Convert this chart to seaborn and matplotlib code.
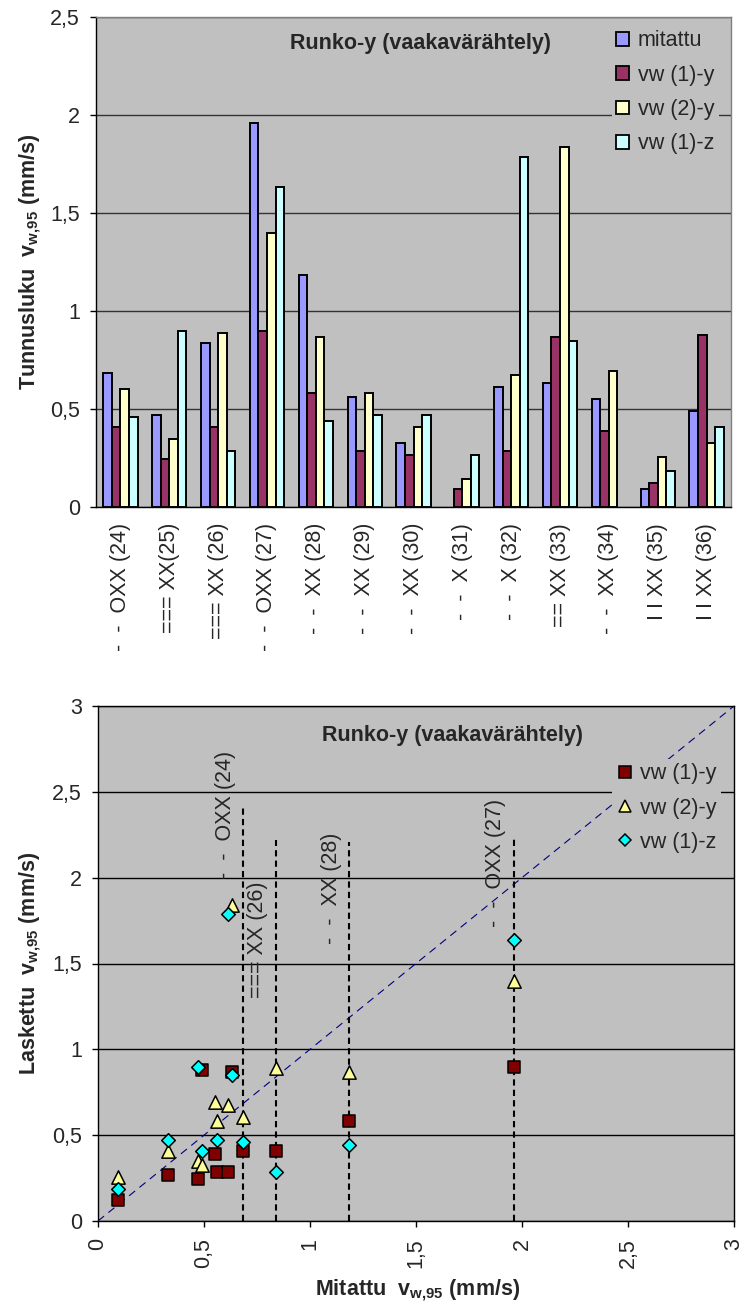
import numpy as np
import pandas as pd
import matplotlib
matplotlib.use("Agg")
import matplotlib.pyplot as plt
import seaborn as sns
from matplotlib.patches import Patch
from matplotlib.lines import Line2D
from matplotlib.ticker import FixedLocator, FuncFormatter

# ---------------- data ----------------
categories = ["-  -  OXX (24)", "=== XX(25)", "=== XX (26)", "-  -  OXX (27)",
              "-  -  XX (28)", "-  -  XX (29)", "-  -  XX (30)", "-  -  X (31)",
              "-  -  X (32)", "== XX (33)", "-  -  XX (34)", "I I XX (35)", "I I XX (36)"]
series_names = ["mitattu", "vw (1)-y", "vw (2)-y", "vw (1)-z"]
mitattu = [0.685, 0.471, 0.838, 1.961, 1.185, 0.563, 0.328, np.nan, 0.614, 0.634, 0.553, 0.093, 0.491]
vw1y = [0.41, 0.246, 0.41, 0.90, 0.583, 0.287, 0.267, 0.093, 0.287, 0.869, 0.389, 0.124, 0.879]
vw2y = [0.604, 0.348, 0.889, 1.40, 0.869, 0.583, 0.41, 0.144, 0.675, 1.838, 0.695, 0.257, 0.328]
vw1z = [0.46, 0.90, 0.287, 1.634, 0.44, 0.471, 0.471, 0.267, 1.787, 0.848, np.nan, 0.185, 0.41]

top_ticks = [0, 0.5, 1, 1.5, 2, 2.5]
bottom_ticks = [0, 0.5, 1, 1.5, 2, 2.5, 3]
ref_line = [0, 3]

# annotated measurements in the scatter chart
annot_idx = [0, 2, 4, 3]
annot_labels = ["-  -  OXX (24)", "=== XX (26)", "-  -  XX (28)", "-  -  OXX (27)"]
annot_line_tops = [2.41, 2.22, 2.21, 2.23]
annot_text_tops = [2.74, 1.98, 2.26, 2.46]

title = "Runko-y (vaakavärähtely)"

# ---------------- style ----------------
sns.set_style("white")
plt.rcParams["font.family"] = ["Liberation Sans", "DejaVu Sans"]
plt.rcParams["mathtext.fontset"] = "custom"
plt.rcParams["mathtext.rm"] = "Liberation Sans"
plt.rcParams["mathtext.bf"] = "Liberation Sans:bold"
plt.rcParams["mathtext.it"] = "Liberation Sans:italic"

bar_colors = {"mitattu": "#9999FF", "vw (1)-y": "#993366",
              "vw (2)-y": "#FFFFCC", "vw (1)-z": "#CCFFFF"}
plot_bg = "#C0C0C0"
FS = 15.5

W, H = 743, 1309
fig = plt.figure(figsize=(W / 100, H / 100), dpi=100)


def rect(l, t, r, b):
    return [l / W, 1 - b / H, (r - l) / W, (b - t) / H]


comma = FuncFormatter(lambda v, p: f"{v:g}".replace(".", ","))
sub_lbl = r"v$_{\mathbf{w{,}95}}$ (mm/s)"

# ---------------- top: bar chart ----------------
ax1 = fig.add_axes(rect(96, 17, 731, 507))
df = pd.DataFrame({
    "kohde": categories * 4,
    "sarja": np.repeat(series_names, len(categories)),
    "arvo": mitattu + vw1y + vw2y + vw1z,
})
sns.barplot(data=df, x="kohde", y="arvo", hue="sarja", order=categories,
            hue_order=series_names, palette=bar_colors, width=0.7,
            edgecolor="black", linewidth=1.4, saturation=1, errorbar=None,
            ax=ax1, zorder=3)
if ax1.get_legend() is not None:
    ax1.get_legend().remove()
ax1.set_facecolor(plot_bg)
ax1.set_xlim(-0.5, len(categories) - 0.5)
ax1.set_ylim(0, 2.5)
ax1.set_yticks(top_ticks)
ax1.yaxis.set_major_formatter(comma)
ax1.yaxis.grid(True, color="#333333", lw=1.0)
ax1.set_axisbelow(True)
ax1.set_xticks(range(len(categories)))
ax1.set_xticklabels(categories, rotation=90, fontsize=FS)
ax1.xaxis.set_minor_locator(FixedLocator(np.arange(-0.5, len(categories), 1.0)))
ax1.tick_params(axis="x", which="major", length=0, pad=11.5)
ax1.tick_params(axis="x", which="minor", length=4.5, width=1, color="black", direction="out")
ax1.tick_params(axis="y", length=4, width=1, color="black", direction="out", pad=7.5, labelsize=FS)
ax1.tick_params(left=True, bottom=True)
for s in ["top", "right"]:
    ax1.spines[s].set_color("#808080")
for s in ["left", "bottom"]:
    ax1.spines[s].set_color("black")
for s in ax1.spines.values():
    s.set_linewidth(1.0)
ax1.set_xlabel("")
ax1.set_ylabel("Tunnusluku  " + sub_lbl, fontsize=FS, fontweight="bold", va="center")
ax1.yaxis.set_label_coords((30 - 96) / 635, 0.5)
ax1.text((420 - 96) / 635, (507 - 43) / 490, title, transform=ax1.transAxes,
         ha="center", va="center", fontsize=FS, fontweight="bold", zorder=6)
bar_handles = [Patch(facecolor=bar_colors[n], edgecolor="black", linewidth=1.3)
               for n in series_names]
leg1 = ax1.legend(bar_handles, series_names, loc="upper left",
                  bbox_to_anchor=(612 / W, 1 - 26 / H), bbox_transform=fig.transFigure,
                  frameon=True, fancybox=False, facecolor=plot_bg, edgecolor="none",
                  framealpha=1, fontsize=FS, handlelength=0.6, handleheight=0.6,
                  handletextpad=0.4, labelspacing=0.62, borderpad=0.2, borderaxespad=0)
leg1.set_zorder(5)

# ---------------- bottom: scatter chart ----------------
ax2 = fig.add_axes(rect(98, 706, 734, 1221))
ax2.set_facecolor(plot_bg)
ax2.set_xlim(0, 3)
ax2.set_ylim(0, 3)
ax2.set_xticks(bottom_ticks)
ax2.set_yticks(bottom_ticks)
ax2.xaxis.set_major_formatter(comma)
ax2.yaxis.set_major_formatter(comma)
ax2.yaxis.grid(True, color="black", lw=1.0)
ax2.set_axisbelow(True)
ax2.tick_params(axis="x", length=4, width=1, color="black", direction="out", pad=8.3,
                labelsize=FS, labelrotation=90)
ax2.tick_params(axis="y", length=4, width=1, color="black", direction="out", pad=7.5,
                labelsize=FS)
ax2.tick_params(left=True, bottom=True)
for s in ax2.spines.values():
    s.set_color("black")
    s.set_linewidth(1.0)

ax2.plot(ref_line, ref_line, color="#000080", lw=0.8, ls=(0, (7, 5)), zorder=2)

line_x = [mitattu[i] for i in annot_idx]
ax2.vlines(line_x, 0, annot_line_tops, colors="black", linestyles=(0, (3, 2)),
           lw=1.5, zorder=2.5)
for x, top, lab in zip(line_x, annot_text_tops, annot_labels):
    ax2.text(x - 0.085, top, lab, rotation=90, ha="center", va="top",
             fontsize=FS, zorder=2.5)

scatter_specs = [
    ("vw (1)-y", vw1y, "s", "#800000", 72),
    ("vw (2)-y", vw2y, "^", "#FFFF99", 92),
    ("vw (1)-z", vw1z, "D", "#00FFFF", 48),
]
for name, vals, mk, col, size in scatter_specs:
    sub = pd.DataFrame({"mitattu": mitattu, "laskettu": vals}).dropna()
    sns.scatterplot(data=sub, x="mitattu", y="laskettu", marker=mk, color=col, s=size,
                    edgecolor="black", linewidth=1.1, ax=ax2, zorder=4, legend=False)

ax2.set_xlabel("Mitattu  " + sub_lbl, fontsize=FS, fontweight="bold", va="center")
ax2.xaxis.set_label_coords((418 - 98) / 636, (1221 - 1290) / 515)
ax2.set_ylabel("Laskettu  " + sub_lbl, fontsize=FS, fontweight="bold", va="center")
ax2.yaxis.set_label_coords((30 - 98) / 636, 0.5)
ax2.text((452 - 98) / 636, (1221 - 735) / 515, title, transform=ax2.transAxes,
         ha="center", va="center", fontsize=FS, fontweight="bold", zorder=6)

sc_handles = [Line2D([], [], ls="none", marker=mk, markerfacecolor=col,
                     markeredgecolor="black", markeredgewidth=1.1,
                     markersize=np.sqrt(size) * 0.95)
              for name, vals, mk, col, size in scatter_specs]
leg2 = ax2.legend(sc_handles, [s[0] for s in scatter_specs], loc="upper left",
                  bbox_to_anchor=(612 / W, 1 - 759 / H), bbox_transform=fig.transFigure,
                  frameon=True, fancybox=False, facecolor=plot_bg, edgecolor="none",
                  framealpha=1, fontsize=FS, handlelength=0.8, handletextpad=0.3,
                  labelspacing=0.62, borderpad=0.2, borderaxespad=0)
leg2.set_zorder(5)

fig.savefig("out.png", dpi=100, facecolor="white")
